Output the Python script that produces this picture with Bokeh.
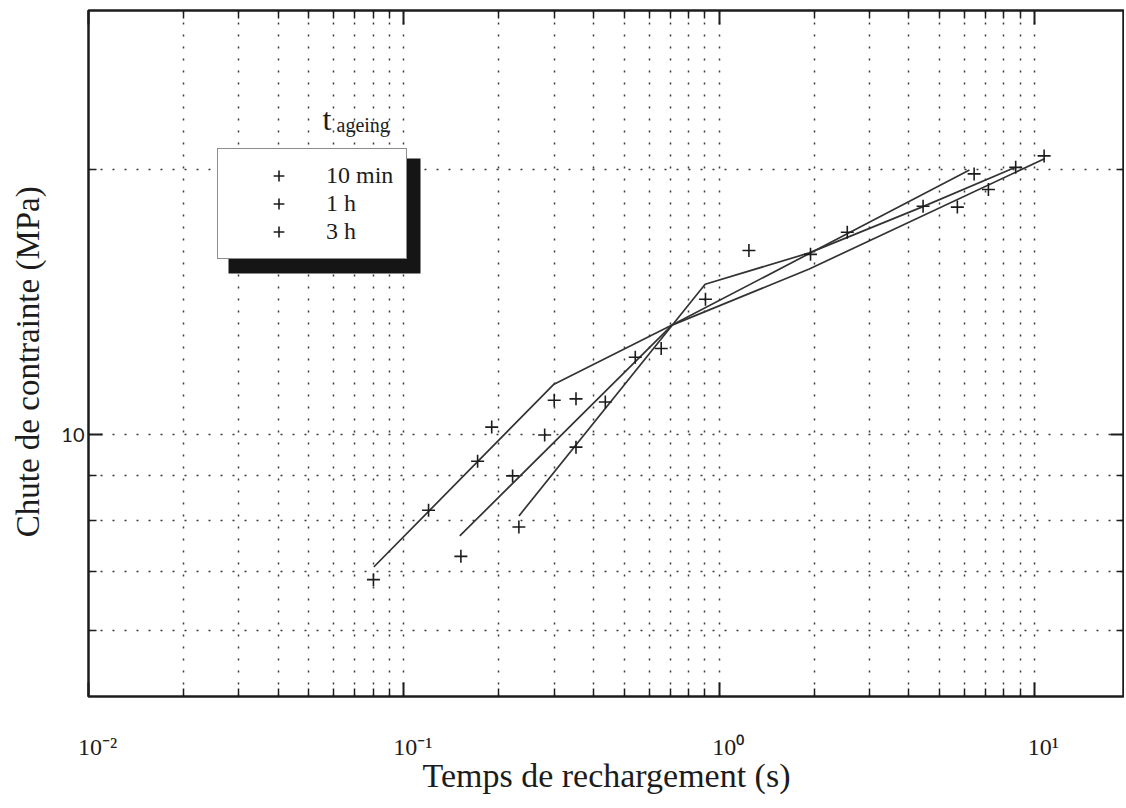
from bokeh.plotting import figure
from bokeh.models import (FixedTicker, LogAxis, Legend, LegendItem, BoxAnnotation,
                          Label, Range1d)
from bokeh.embed import file_html
from bokeh.resources import INLINE

# ---------------- data ----------------
series_names = ["10 min", "1 h", "3 h"]

# measured points (+ markers)
x_10min = [0.0801, 0.1198, 0.1714, 0.190, 0.2797, 0.2999, 5.695, 10.73]
y_10min = [6.85, 8.21, 9.33, 10.2, 9.99, 10.94, 18.11, 20.70]

x_1h = [0.1517, 0.2213, 0.3516, 0.542, 1.243, 2.549, 6.437, 7.145]
y_1h = [7.28, 8.98, 10.98, 12.24, 16.17, 16.96, 19.75, 18.96]

x_3h = [0.2317, 0.3516, 0.4355, 0.655, 0.905, 1.949, 4.434, 8.72]
y_3h = [7.86, 9.68, 10.89, 12.52, 14.24, 16.01, 18.15, 20.09]

# fitted curves (polylines)
fit_x_10min = [0.0803, 0.2994, 0.709, 1.931, 10.76]
fit_y_10min = [7.08, 11.41, 13.31, 15.41, 20.55]

fit_x_1h = [0.1505, 0.709, 6.22]
fit_y_1h = [7.68, 13.31, 19.95]

fit_x_3h = [0.2318, 0.9028, 1.931, 4.41, 8.71]
fit_y_3h = [8.09, 14.81, 16.07, 18.12, 20.09]

# axes / ticks
x_major_ticks = [0.01, 0.1, 1, 10]
x_tick_labels = ["10\u207b\u00b2", "10\u207b\u00b9", "10\u2070", "10\u00b9"]
x_minor_ticks = [m * t for t in x_major_ticks for m in range(2, 10)]
y_major_ticks = [10]
y_tick_labels = ["10"]
y_minor_ticks = [6, 7, 8, 9, 20]

x_title = "Temps de rechargement (s)"
y_title = "Chute de contrainte (MPa)"
legend_title_main = "t"
legend_title_sub = "ageing"

# ---------------- styling ----------------
SERIF = "Liberation Serif"
INK = "#1c1c1c"
GRID = "#3a3a3a"
NBSP = "\u00a0"

p = figure(width=1124, height=805,
           x_axis_type="log", y_axis_type="log",
           x_range=Range1d(0.01, 19.3), y_range=Range1d(5.05, 30.25),
           output_backend="svg", toolbar_location=None,
           min_border_left=88, min_border_right=0,
           min_border_top=10, min_border_bottom=109)
p.background_fill_color = "white"
p.border_fill_color = "white"
p.outline_line_color = INK
p.outline_line_width = 2.5

bottom_axis = p.below[0]
left_axis = p.left[0]

xt = FixedTicker(ticks=x_major_ticks, minor_ticks=x_minor_ticks)
yt = FixedTicker(ticks=y_major_ticks, minor_ticks=y_minor_ticks)
bottom_axis.ticker = xt
left_axis.ticker = yt

top_axis = LogAxis(ticker=xt)
right_axis = LogAxis(ticker=yt)
p.add_layout(top_axis, "above")
p.add_layout(right_axis, "right")

for ax in (bottom_axis, left_axis, top_axis, right_axis):
    ax.axis_line_color = None
    ax.major_tick_in = 14
    ax.major_tick_out = 0
    ax.minor_tick_in = 8
    ax.minor_tick_out = 0
    ax.major_tick_line_color = INK
    ax.major_tick_line_width = 2
    ax.minor_tick_line_color = INK
    ax.minor_tick_line_width = 1.5

# top / right axes: ticks only
for ax, ticks in ((top_axis, x_major_ticks), (right_axis, y_major_ticks)):
    ax.major_label_overrides = {**{t: " " for t in ticks},
                                **{f"{t:g}": " " for t in ticks}}
    ax.major_label_text_font_size = "1px"
    ax.major_label_text_alpha = 0
    ax.major_label_standoff = 0

# bottom axis: 10^k labels
bottom_axis.major_label_overrides = {
    **{t: NBSP * 3 + s for t, s in zip(x_major_ticks, x_tick_labels)},
    **{f"{t:g}": NBSP * 3 + s for t, s in zip(x_major_ticks, x_tick_labels)}}
bottom_axis.major_label_text_font = SERIF
bottom_axis.major_label_text_font_size = "24px"
bottom_axis.major_label_text_color = INK
bottom_axis.major_label_standoff = 37

bottom_axis.axis_label = x_title
bottom_axis.axis_label_text_font = SERIF
bottom_axis.axis_label_text_font_size = "34px"
bottom_axis.axis_label_text_font_style = "normal"
bottom_axis.axis_label_text_color = INK
bottom_axis.axis_label_standoff = -6

# left axis: "10"
left_axis.major_label_overrides = {**{t: s for t, s in zip(y_major_ticks, y_tick_labels)},
                                   **{f"{t:g}": s for t, s in zip(y_major_ticks, y_tick_labels)}}
left_axis.major_label_text_font = "Lato"
left_axis.major_label_text_font_size = "20px"
left_axis.major_label_text_color = INK
left_axis.major_label_standoff = 4

left_axis.axis_label = y_title + NBSP * 2
left_axis.axis_label_text_font = SERIF
left_axis.axis_label_text_font_size = "33px"
left_axis.axis_label_text_font_style = "normal"
left_axis.axis_label_text_color = INK
left_axis.axis_label_standoff = 12

for g in (p.xgrid[0], p.ygrid[0]):
    g.grid_line_color = GRID
    g.grid_line_dash = "2 10"
    g.grid_line_width = 1.5
    g.minor_grid_line_color = GRID
    g.minor_grid_line_dash = "2 10"
    g.minor_grid_line_width = 1.5

# ---------------- data renderers ----------------
LINE = "#333333"
fits = [(fit_x_10min, fit_y_10min), (fit_x_1h, fit_y_1h), (fit_x_3h, fit_y_3h)]
for fx, fy in fits:
    p.line(fx, fy, line_color=LINE, line_width=1.7)

pts = [(x_10min, y_10min), (x_1h, y_1h), (x_3h, y_3h)]
marker_renderers = []
for sx, sy in pts:
    r = p.scatter(sx, sy, marker="cross", size=13, line_color=INK, line_width=1.6)
    marker_renderers.append(r)

# ---------------- legend with drop shadow ----------------
shadow = BoxAnnotation(left=140, right=332, top=538, bottom=423,
                       left_units="screen", right_units="screen",
                       top_units="screen", bottom_units="screen",
                       fill_color="#151515", fill_alpha=1.0, line_color=None,
                       level="annotation")
p.add_layout(shadow)

legend = Legend(items=[LegendItem(label=n, renderers=[r])
                       for n, r in zip(series_names, marker_renderers)],
                location=(129, 437), orientation="vertical",
                padding=13, spacing=1, margin=0,
                glyph_width=95, glyph_height=27, label_height=27, label_standoff=0,
                label_text_font=SERIF, label_text_font_size="24px",
                label_text_color=INK,
                border_line_color=INK, border_line_width=1.5,
                background_fill_color="white", background_fill_alpha=1.0)
p.add_layout(legend)

p.add_layout(Label(x=234, y=578, x_units="screen", y_units="screen",
                   text=legend_title_main, text_font=SERIF, text_font_size="32px",
                   text_baseline="alphabetic", text_color=INK))
p.add_layout(Label(x=248, y=572, x_units="screen", y_units="screen",
                   text=legend_title_sub, text_font=SERIF, text_font_size="20px",
                   text_baseline="alphabetic", text_color=INK))

open("out.html", "w").write(file_html(p, INLINE))
